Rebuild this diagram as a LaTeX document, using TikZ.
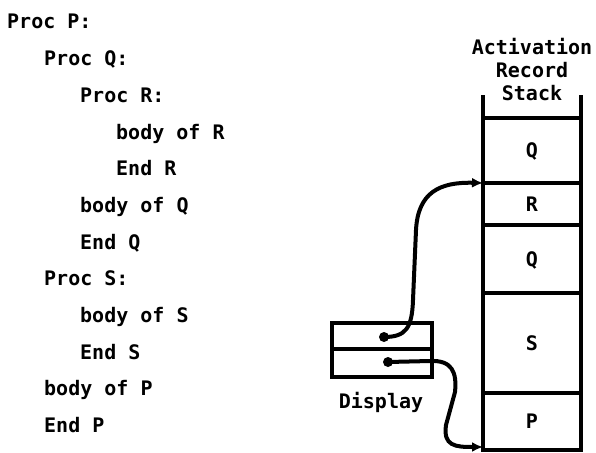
\documentclass[tikz,border=0pt]{standalone}
\usepackage{fontspec}
\setmonofont{DejaVu Sans Mono}
\usetikzlibrary{arrows.meta,positioning}
\tikzset{
  code/.style={anchor=base west, inner sep=0pt, font=\ttfamily\bfseries\fontsize{20}{23}\selectfont},
  cell/.style={draw, line width=3.2pt, outer sep=0pt, minimum width=98pt, inner sep=0pt, text depth=0pt, font=\ttfamily\bfseries\fontsize{20}{23}\selectfont},
  slot/.style={draw, line width=3.2pt, outer sep=0pt, minimum width=100pt, inner sep=0pt},
  ptr/.style={-{Latex[length=11pt,width=10pt]}, line width=4pt},
  ptrdot/.style={circle, fill, inner sep=0pt, minimum size=10pt}
}
\begin{document}
\begin{tikzpicture}[x=1pt, y=-1pt]
  \useasboundingbox (0,0) rectangle (596,452);

  % program text
  \node[code] (procP) at (7,29) {Proc P:};
  \node[code] (procQ) at (44,65.5) {Proc Q:};
  \node[code] (procR) at (80,102) {Proc R:};
  \node[code] (bodyR) at (116,139) {body of R};
  \node[code] (endR) at (116,175) {End R};
  \node[code] (bodyQ) at (80,212) {body of Q};
  \node[code] (endQ) at (80,249) {End Q};
  \node[code] (procS) at (44,285) {Proc S:};
  \node[code] (bodyS) at (80,322) {body of S};
  \node[code] (endS) at (80,359) {End S};
  \node[code] (bodyP) at (44,395) {body of P};
  \node[code] (endP) at (44,432) {End P};

  % activation record stack
  \node[code, anchor=base, align=center] (title) at (532,100) {Activation\\Record\\Stack};
  \node[cell, minimum height=65pt] (cellQa) at (532,150.5) {Q};
  \node[cell, minimum height=42pt, below=0pt of cellQa] (cellR) {R};
  \node[cell, minimum height=68pt, below=0pt of cellR] (cellQb) {Q};
  \node[cell, minimum height=100pt, below=0pt of cellQb] (cellS) {S};
  \node[cell, minimum height=57pt, below=0pt of cellS] (cellP) {P};
  \draw[line width=3.2pt] (cellQa.north west) -- ++(0,-23);
  \draw[line width=3.2pt] (cellQa.north east) -- ++(0,-23);

  % display
  \node[slot, minimum height=26pt] (dispTop) at (382,336) {};
  \node[slot, minimum height=28pt, below=0pt of dispTop] (dispBot) {};
  \node[code, anchor=base] (dispLabel) at (381,408) {Display};
  \node[ptrdot] (dotQ) at (384,337) {};
  \node[ptrdot] (dotP) at (388,362) {};

  \draw[ptr] (dotQ.center) .. controls (406,337) and (412,328) .. (413,300)
    -- (416,230) .. controls (418,192) and (440,182) .. (cellR.north west);
  \draw[ptr] (dotP.center) -- (430,361) .. controls (452,360) and (457,372) .. (455,392)
    -- (446,425) .. controls (443,446) and (455,447) .. ([yshift=3pt]cellP.south west);
\end{tikzpicture}
\end{document}
